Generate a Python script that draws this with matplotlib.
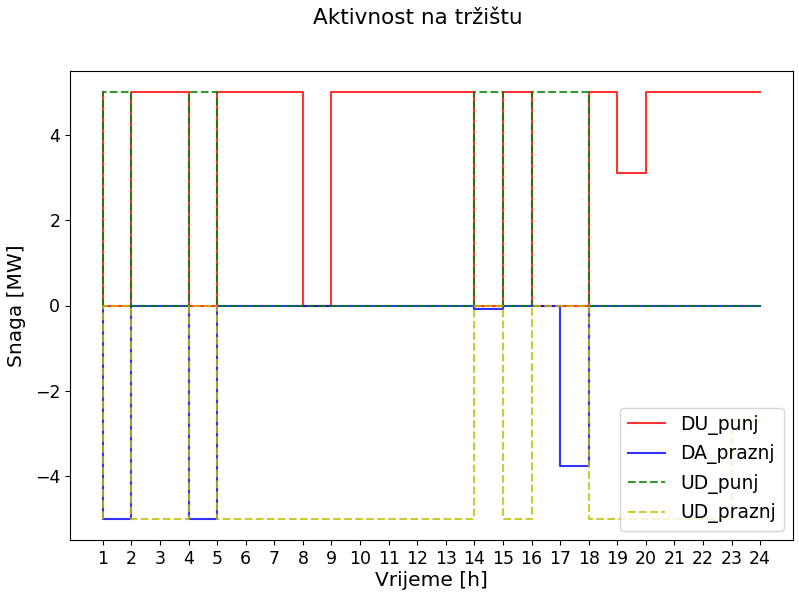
import numpy as np
import matplotlib
matplotlib.use('Agg')
import matplotlib.pyplot as plt

# hours (step where='pre': value i holds on [hour i-1, hour i])
hours = np.arange(1, 25)

du_punj = [5, 0, 5, 5, 0, 5, 5, 5, 0, 5, 5, 5, 5, 5, 0, 5, 0, 0, 5, 3.1, 5, 5, 5, 5]
da_praznj = [0, -5, 0, 0, -5, 0, 0, 0, 0, 0, 0, 0, 0, 0, -0.08, 0, 0, -3.77, 0, 0, 0, 0, 0, 0]
ud_punj = [0, 5, 0, 0, 5, 0, 0, 0, 0, 0, 0, 0, 0, 0, 5, 0, 5, 5, 0, 0, 0, 0, 0, 0]
ud_praznj = [-5, 0, -5, -5, 0, -5, -5, -5, -5, -5, -5, -5, -5, -5, 0, -5, 0, 0, -5, -5, -5, -5, -5, -2.7]

fig = plt.figure(figsize=(7.99, 5.98), dpi=100)
ax = fig.add_axes([70/799, 1-540/598, (793-70)/799, (540-71)/598])

ax.step(hours, du_punj, 'r', alpha=0.8, lw=1.5, label='DU_punj')
ax.step(hours, da_praznj, 'b', alpha=0.8, lw=1.5, label='DA_praznj')
ax.step(hours, ud_punj, 'g--', alpha=0.8, lw=1.5, label='UD_punj')
ax.step(hours, ud_praznj, 'y--', alpha=0.8, lw=1.5, label='UD_praznj')

ax.set_xticks(hours)
ax.tick_params(labelsize=12.5)
ax.set_xlabel('Vrijeme [h]', fontsize=14.5, labelpad=2)
ax.set_ylabel('Snaga [MW]', fontsize=14.5, labelpad=6)
fig.text(418/799, 1-18/598, 'Aktivnost na tržištu', ha='center', va='center', fontsize=15.5)
ax.legend(loc='lower right', fontsize=13.5)

fig.savefig('out.png', dpi=100)
